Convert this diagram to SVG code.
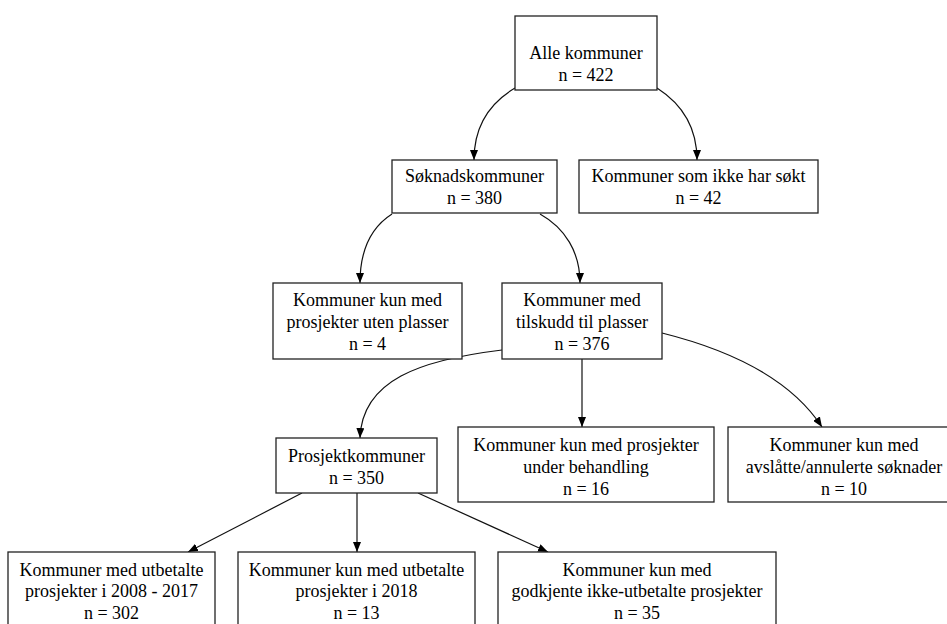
<svg xmlns="http://www.w3.org/2000/svg" width="947" height="624" viewBox="0 0 947 624">
<defs>
<style>
.box{fill:#fff;stroke:#222;stroke-width:1.3}
text{font-size:18px;fill:#000;text-anchor:middle}
.e{fill:none;stroke:#111;stroke-width:1.2}
</style>
<marker id="ah" markerWidth="10" markerHeight="8" refX="10" refY="4" orient="auto" markerUnits="userSpaceOnUse">
<path d="M0,0 L10,4 L0,8 Z" fill="#000"/>
</marker>
</defs>
<rect width="947" height="624" fill="#fff"/>
<g id="edges">
<path class="e" d="M515,88 C488,104 474,128 474,160" marker-end="url(#ah)"/>
<path class="e" d="M657,88 C682,104 697,128 697,160" marker-end="url(#ah)"/>
<path class="e" d="M392,214 C370,228 360,252 360,283" marker-end="url(#ah)"/>
<path class="e" d="M540,214 C565,228 580,252 580,283" marker-end="url(#ah)"/>
<path class="e" d="M502,350 C420,360 362,380 360,438" marker-end="url(#ah)"/>
<path class="e" d="M582,359 L582,427" marker-end="url(#ah)"/>
<path class="e" d="M662,333 C730,350 790,378 822,427" marker-end="url(#ah)"/>
<path class="e" d="M302,493 L188,552" marker-end="url(#ah)"/>
<path class="e" d="M357,493 L357,552" marker-end="url(#ah)"/>
<path class="e" d="M418,493 L548,552" marker-end="url(#ah)"/>
</g>
<g font-family="'Liberation Serif', Tinos, 'Times New Roman', Times, 'Noto Serif', 'DejaVu Serif', serif">
<g id="n1"><rect class="box" x="515" y="16" width="142" height="74"/>
<text x="586" y="59">Alle kommuner</text><text x="586" y="81">n = 422</text></g>
<g id="n2"><rect class="box" x="392" y="160" width="165" height="53"/>
<text x="474.5" y="182">Søknadskommuner</text><text x="474.5" y="204">n = 380</text></g>
<g id="n3"><rect class="box" x="579" y="160" width="239" height="53"/>
<text x="698.5" y="182">Kommuner som ikke har søkt</text><text x="698.5" y="204">n = 42</text></g>
<g id="n4"><rect class="box" x="273" y="283" width="189" height="76"/>
<text x="367.5" y="306">Kommuner kun med</text><text x="367.5" y="328">prosjekter uten plasser</text><text x="367.5" y="350">n = 4</text></g>
<g id="n5"><rect class="box" x="502" y="283" width="160" height="76"/>
<text x="582" y="306">Kommuner med</text><text x="582" y="328">tilskudd til plasser</text><text x="582" y="350">n = 376</text></g>
<g id="n6"><rect class="box" x="276" y="438" width="161" height="55"/>
<text x="356.5" y="462">Prosjektkommuner</text><text x="356.5" y="484">n = 350</text></g>
<g id="n7"><rect class="box" x="458" y="427" width="256" height="75"/>
<text x="586" y="451">Kommuner kun med prosjekter</text><text x="586" y="473">under behandling</text><text x="586" y="495">n = 16</text></g>
<g id="n8"><rect class="box" x="728" y="427" width="232" height="75"/>
<text x="844" y="451">Kommuner kun med</text><text x="844" y="473">avslåtte/annulerte søknader</text><text x="844" y="495">n = 10</text></g>
<g id="n9"><rect class="box" x="8" y="552" width="207" height="76"/>
<text x="111.5" y="576">Kommuner med utbetalte</text><text x="111.5" y="597">prosjekter i 2008 - 2017</text><text x="111.5" y="619">n = 302</text></g>
<g id="n10"><rect class="box" x="238" y="552" width="237" height="76"/>
<text x="356.5" y="576">Kommuner kun med utbetalte</text><text x="356.5" y="597">prosjekter i 2018</text><text x="356.5" y="619">n = 13</text></g>
<g id="n11"><rect class="box" x="498" y="552" width="278" height="76"/>
<text x="637" y="576">Kommuner kun med</text><text x="637" y="597">godkjente ikke-utbetalte prosjekter</text><text x="637" y="619">n = 35</text></g>
</g>
</svg>
